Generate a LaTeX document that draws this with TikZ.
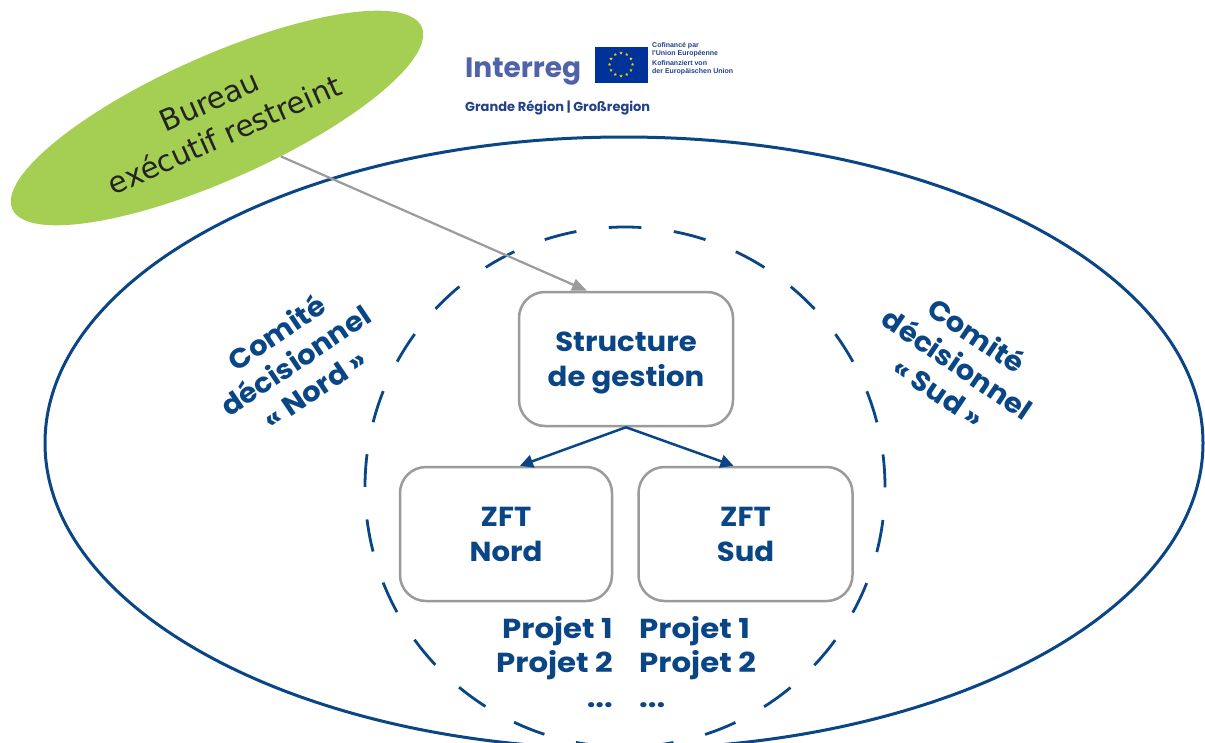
\documentclass[tikz,border=0pt]{standalone}
\usepackage{fontspec}
\usetikzlibrary{shapes.geometric,arrows.meta,calc}
\newfontfamily\pop{Poppins}
\newfontfamily\popA{Poppins}[FakeStretch=1.06]
\newfontfamily\popB{Poppins}[FakeStretch=1.12]
\newfontfamily\dvs{DejaVu Sans}
\newfontfamily\lib{Liberation Sans}
\definecolor{cblue}{RGB}{10,70,134}
\definecolor{cgreen}{RGB}{165,207,82}
\definecolor{cgray}{RGB}{155,155,155}
\definecolor{cdark}{RGB}{35,35,35}
\definecolor{ilogo}{RGB}{80,98,168}
\definecolor{ilogotxt}{RGB}{35,65,135}
\definecolor{euflag}{RGB}{0,51,153}
\definecolor{eustar}{RGB}{255,204,0}
\begin{document}
\begin{tikzpicture}[x=1pt,y=-1pt,
  box/.style={draw=cgray, line width=2.5pt, rounded corners=26pt, fill=white,
    minimum width=212pt, minimum height=134pt, align=center, text depth=0pt,
    font=\popA\bfseries\fontsize{27.5}{35}\selectfont, text=cblue},
  lab/.style={align=center, text=cblue, font=\popA\bfseries\fontsize{27.5}{34}\selectfont},
  ptext/.style={text=cblue, font=\popB\bfseries\fontsize{27.5}{34}\selectfont, inner sep=0pt},
  barrow/.style={draw=cblue, line width=2.5pt, -{Triangle[length=13pt,width=13pt]}},
  garrow/.style={draw=cgray, line width=2.2pt, -{Triangle[length=15pt,width=12pt]}},
  eustarst/.style={star, star points=5, star point ratio=2.4, fill=eustar, inner sep=0pt, minimum size=3.4pt}
]
\useasboundingbox (0,0) rectangle (1205,742);
\fill[white] (0,0) rectangle (1205,742);

% outer ellipse and dashed circle
\node[ellipse, draw=cblue, line width=3pt, minimum width=1158pt, minimum height=612pt, inner sep=0pt] (outer) at (624,443) {};
\node[circle, draw=cblue, line width=2.8pt, minimum size=520pt, inner sep=0pt,
      dash pattern=on 32.67pt off 32.67pt] (inner) at (625,487) {};

% Bureau
\node[ellipse, fill=cgreen, minimum width=448pt, minimum height=124pt, inner sep=0pt,
      rotate=24, align=center, text=cdark, font=\dvs\fontsize{29.5}{37}\selectfont] (bureau) at (217,118) {Bureau\\exécutif restreint};

% boxes
\node[box, minimum width=214pt] (struct) at (626,359) {Structure\\de gestion};
\node[box] (nord) at (506,534) {ZFT\\Nord};
\node[box, minimum width=214pt] (sud) at (745.5,534) {ZFT\\Sud};

% connectors
\draw[garrow] (bureau.-55) -- ([xshift=-39pt]struct.north);
\draw[barrow] (struct.south) -- ([xshift=14pt]nord.north);
\draw[barrow] (struct.south) -- ([xshift=-12pt]sud.north);

% comite labels
\node[lab, rotate=34] (cnord) at (295,360) {Comité\\décisionnel\\« Nord »};
\node[lab, rotate=-34] (csud) at (958,363) {Comité\\décisionnel\\« Sud »};

% projets
\node[ptext, anchor=base east] (pn1) at (613,638) {Projet 1};
\node[ptext, anchor=base east] (pn2) at (613,672) {Projet 2};
\node[ptext, anchor=base east] (pn3) at (613,707) {...};
\node[ptext, anchor=base west] (ps1) at (639,638) {Projet 1};
\node[ptext, anchor=base west] (ps2) at (639,672) {Projet 2};
\node[ptext, anchor=base west] (ps3) at (639,707) {...};

% logo
\node[anchor=base west, inner sep=0pt, text=ilogo, font=\pop\bfseries\fontsize{28}{28}\selectfont] (interreg) at (465,77) {Interreg};
\node[fill=euflag, minimum width=53pt, minimum height=36pt, inner sep=0pt] (flag) at (621,64.5) {};
\foreach \i in {1,...,12} {
  \node[eustarst] (st\i) at ($(flag.center)+(\i*30:11.5)$) {};
}
\node[anchor=base west, inner sep=0pt, align=left, text=ilogotxt, font=\lib\bfseries\fontsize{7}{7.6}\selectfont] (cofin) at (652,55) {Cofinancé par\\l'Union Européenne};
\node[anchor=base west, inner sep=0pt, align=left, text=ilogotxt, font=\lib\bfseries\fontsize{7}{7.6}\selectfont] (kofin) at (652,73.5) {Kofinanziert von\\der Europäischen Union};
\node[anchor=base west, inner sep=0pt, text=ilogotxt, font=\pop\bfseries\fontsize{13}{13}\selectfont] (grande) at (465,111) {Grande Région | Großregion};
\end{tikzpicture}
\end{document}
